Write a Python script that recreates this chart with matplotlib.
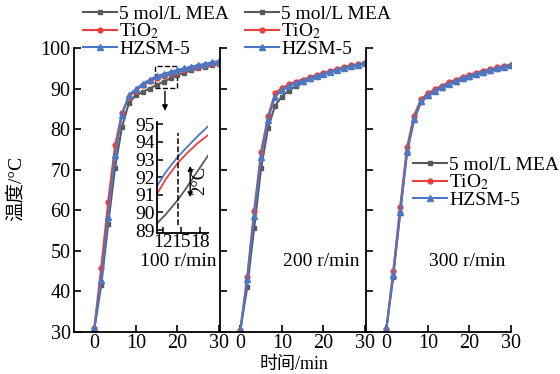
import numpy as np
import matplotlib.pyplot as plt
from matplotlib.patches import Rectangle

plt.rcParams['font.family'] = ['Liberation Serif', 'Noto Sans CJK SC']
plt.rcParams['mathtext.fontset'] = 'stix'

# time axis, one reading every 100 s
t = np.arange(19) * 100 / 60

labels = ["5 mol/L MEA", "TiO$_2$", "HZSM-5"]
colors = ["#5a5a5a", "#e8403a", "#4a78c4"]
markers = ["s", "o", "^"]
sizes = [3.5, 3.5, 4.8]

# 100 r/min
mea_100 = [30.5, 41.5, 56.5, 70.5, 80.5, 86.5, 88.3, 89.2, 90.0, 90.9, 91.7, 92.5, 93.3, 93.9, 94.5, 95.0, 95.4, 95.8, 96.1]
tio2_100 = [31.0, 45.7, 62.0, 76.0, 84.0, 88.0, 89.5, 90.8, 91.8, 92.6, 93.2, 93.7, 94.2, 94.6, 95.0, 95.4, 95.7, 96.0, 96.3]
hzsm_100 = [30.8, 42.8, 58.4, 73.5, 83.5, 88.4, 89.9, 91.2, 92.2, 93.0, 93.6, 94.1, 94.6, 95.0, 95.4, 95.8, 96.1, 96.5, 96.8]

# 200 r/min
mea_200 = [30.2, 41.0, 55.5, 70.3, 80.2, 85.7, 88.0, 89.5, 90.6, 91.5, 92.3, 93.0, 93.6, 94.1, 94.6, 95.1, 95.5, 95.9, 96.2]
tio2_200 = [30.4, 43.5, 59.9, 74.4, 83.1, 88.8, 90.1, 91.0, 91.7, 92.2, 92.8, 93.3, 93.8, 94.3, 94.8, 95.3, 95.7, 96.0, 96.4]
hzsm_200 = [30.3, 42.9, 58.6, 73.2, 82.3, 88.0, 89.6, 90.6, 91.4, 91.9, 92.5, 93.1, 93.6, 94.1, 94.6, 95.0, 95.5, 95.9, 96.3]

# 300 r/min
mea_300 = [30.5, 43.6, 59.2, 74.2, 82.2, 86.6, 88.2, 89.3, 90.2, 91.0, 91.7, 92.3, 92.9, 93.4, 93.9, 94.4, 94.8, 95.2, 95.5]
tio2_300 = [30.6, 45.0, 60.8, 75.6, 83.3, 87.3, 88.8, 89.8, 90.7, 91.5, 92.2, 92.8, 93.4, 93.9, 94.4, 94.8, 95.2, 95.6, 95.9]
hzsm_300 = [30.6, 44.0, 59.5, 74.5, 82.5, 86.8, 88.4, 89.5, 90.4, 91.2, 91.9, 92.5, 93.1, 93.6, 94.1, 94.6, 95.0, 95.4, 95.7]

panels = [
    ("100 r/min", [mea_100, tio2_100, hzsm_100]),
    ("200 r/min", [mea_200, tio2_200, hzsm_200]),
    ("300 r/min", [mea_300, tio2_300, hzsm_300]),
]

# zoomed detail for 100 r/min
inset_t = [11.0, 12.5, 14.4, 16.0, 17.5, 19.3]
inset_mea = [89.35, 89.9, 90.7, 91.5, 92.3, 93.25]
inset_tio2 = [91.0, 91.9, 92.8, 93.4, 93.9, 94.4]
inset_hzsm = [91.45, 92.3, 93.15, 93.75, 94.3, 94.9]

fig = plt.figure(figsize=(5.6, 3.74), dpi=100)

lefts = [73.5 / 560, 219.5 / 560, 365.5 / 560]
w = 145.5 / 560
bottom = 1 - 331.7 / 374
h = (331.7 - 48) / 374

legend_pos = [(83 / 560, 1 - 5 / 374), (245 / 560, 1 - 5 / 374), (413 / 560, 1 - 156 / 374)]
text_x = [178, 321, 467]

axes = []
for i, (name, series) in enumerate(panels):
    ax = fig.add_axes([lefts[i], bottom, w, h])
    for y, lab, c, m, ms in zip(series, labels, colors, markers, sizes):
        ax.plot(t, y, color=c, marker=m, ms=ms, lw=1.5, label=lab)
    ax.set_xlim(-5, 30)
    ax.set_ylim(30, 100)
    ax.set_xticks([0, 10, 20, 30])
    ax.set_yticks(range(30, 101, 10))
    ax.spines['top'].set_visible(False)
    ax.spines['right'].set_visible(False)
    for s in ['left', 'bottom']:
        ax.spines[s].set_linewidth(1.3)
    ax.tick_params(direction='in', length=5, width=1.2, labelsize=14.5, pad=2)
    ax.patch.set_alpha(0)
    if i > 0:
        ax.tick_params(labelleft=False)
    ax.legend(loc='upper left', bbox_to_anchor=legend_pos[i], bbox_transform=fig.transFigure,
              frameon=False, fontsize=14, handlelength=1.75, handletextpad=0.1,
              labelspacing=-0.05, borderpad=0, borderaxespad=0)
    fig.text(text_x[i] / 560, 1 - 262 / 374, name, ha='center', va='center', fontsize=14)
    axes.append(ax)

# dashed box and arrow pointing to the detail
ax1 = axes[0]
ax1.add_patch(Rectangle((14.6, 90.2), 5.4, 5.3, fill=False, ls='--', lw=1.0, color='black'))
ax1.annotate("", xy=(17, 83.8), xytext=(17, 90.0),
             arrowprops=dict(arrowstyle='-|>', color='black', lw=1.0, mutation_scale=8))

ins = fig.add_axes([156.5 / 560, 1 - 232.7 / 374, 51.8 / 560, 111 / 374])
ins.plot(inset_t, inset_mea, color=colors[0], lw=1.3)
ins.plot(inset_t, inset_tio2, color=colors[1], lw=1.3)
ins.plot(inset_t, inset_hzsm, color=colors[2], lw=1.3)
ins.plot([14.4, 14.4], [89.3, 94.5], color='black', ls='--', lw=1.1)
ins.annotate("", xy=(16.4, 90.7), xytext=(16.4, 92.8),
             arrowprops=dict(arrowstyle='<|-|>', color='black', lw=1.0, mutation_scale=7))
ins.text(17.9, 91.8, "2°C", rotation=90, ha='center', va='center', fontsize=13.5)
ins.set_xlim(11.0, 19.3)
ins.set_ylim(88.85, 95.15)
ins.set_xticks([12, 15, 18])
ins.set_yticks(range(89, 96))
ins.spines['top'].set_visible(False)
ins.spines['right'].set_visible(False)
for s in ['left', 'bottom']:
    ins.spines[s].set_linewidth(1.3)
ins.tick_params(direction='in', length=4, width=1.1, labelsize=14, pad=1)
ins.patch.set_alpha(0)

fig.text(16 / 560, 1 - 188 / 374, "温度/°C", rotation=90, ha='center', va='center', fontsize=14)
fig.text(294 / 560, 1 - 365 / 374, "时间/min", ha='center', va='center', fontsize=13)

fig.savefig("out.png", dpi=100)
